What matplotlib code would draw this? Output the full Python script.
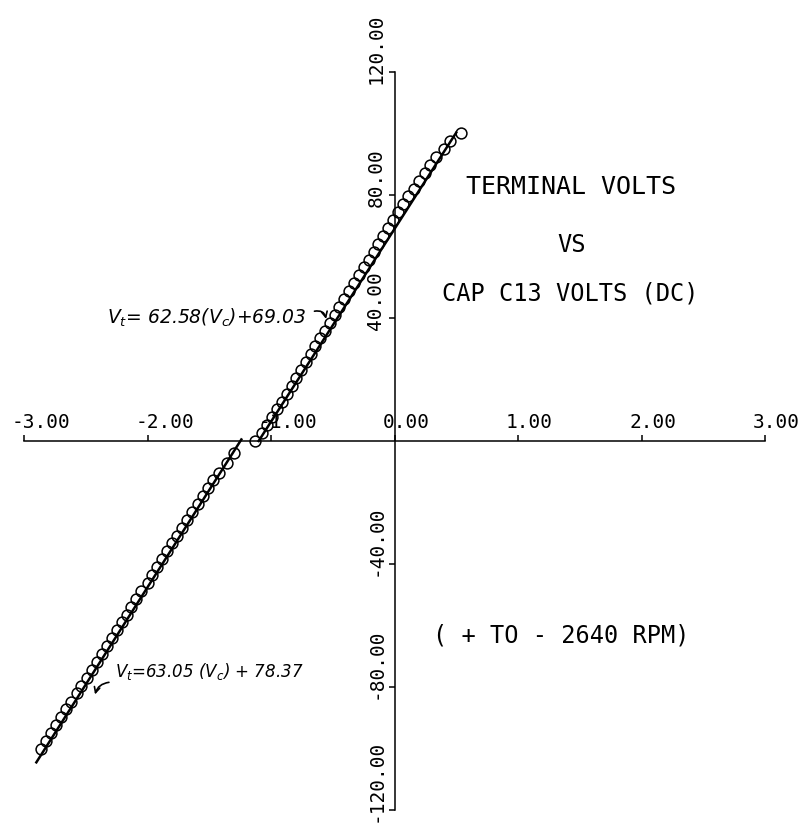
import matplotlib
matplotlib.use("Agg")
import matplotlib.pyplot as plt

vc_low = [-2.86, -2.82, -2.78, -2.74, -2.70, -2.66, -2.62, -2.57, -2.54, -2.49,
          -2.45, -2.41, -2.37, -2.33, -2.29, -2.25, -2.21, -2.17, -2.13, -2.09,
          -2.05, -2.00, -1.96, -1.92, -1.88, -1.84, -1.80, -1.76, -1.72, -1.68,
          -1.64, -1.59, -1.55, -1.51, -1.47, -1.42, -1.36, -1.30]
vt_low = [-100.2, -97.6, -95.1, -92.4, -89.9, -87.3, -84.8, -82.1, -79.6, -77.0,
          -74.4, -71.9, -69.3, -66.8, -64.1, -61.6, -59.0, -56.5, -53.9, -51.3,
          -48.7, -46.2, -43.6, -41.0, -38.5, -35.9, -33.3, -30.8, -28.2, -25.6,
          -23.1, -20.5, -17.9, -15.4, -12.8, -10.3, -7.2, -3.8]
vc_up = [-1.13, -1.07, -1.03, -0.99, -0.95, -0.91, -0.87, -0.83, -0.80, -0.76,
         -0.72, -0.68, -0.64, -0.60, -0.56, -0.52, -0.48, -0.45, -0.41, -0.37,
         -0.33, -0.29, -0.25, -0.21, -0.17, -0.13, -0.09, -0.05, -0.01, 0.03,
         0.07, 0.11, 0.16, 0.20, 0.25, 0.29, 0.34, 0.40, 0.45, 0.54]
vt_up = [0.0, 2.6, 5.1, 7.7, 10.3, 12.8, 15.4, 18.0, 20.5, 23.1,
         25.7, 28.2, 30.8, 33.4, 35.9, 38.5, 41.1, 43.6, 46.2, 48.8,
         51.3, 53.9, 56.5, 59.0, 61.6, 64.2, 66.7, 69.3, 71.9, 74.4,
         77.0, 79.6, 82.1, 84.7, 87.3, 89.8, 92.4, 95.0, 97.5, 100.3]

# fitted lines (end points)
fit_up_x = [-1.10, 0.50]
fit_up_y = [0.0, 100.3]
fit_low_x = [-2.90, -1.24]
fit_low_y = [-104.5, 0.5]

xticks = [-3, -2, -1, 0, 1, 2, 3]
yticks = [-120, -80, -40, 40, 80, 120]

plot_font = "DejaVu Sans Mono"

fig = plt.figure(figsize=(8.07, 8.24), dpi=100)
ax = fig.add_axes([24 / 807, 1 - 810 / 824, 741 / 807, 738 / 824])
ax.set_xlim(-3, 3)
ax.set_ylim(-120, 120)

ax.spines["left"].set_position(("data", 0))
ax.spines["bottom"].set_position(("data", 0))
ax.spines["top"].set_visible(False)
ax.spines["right"].set_visible(False)
for s in ("left", "bottom"):
    ax.spines[s].set_linewidth(1.1)

ax.set_xticks(xticks)
ax.set_yticks(yticks)
ax.tick_params(axis="x", direction="in", length=4, width=1.1, labelbottom=False)
ax.tick_params(axis="y", direction="out", length=4, width=1.1, labelleft=False)

# tick labels, plotter style (offset from the tick)
for t in xticks:
    ax.annotate("%.2f" % t, xy=(t, 0), xytext=(-12, 9), textcoords="offset pixels",
                ha="left", va="bottom", fontsize=14, family=plot_font)
for t in yticks:
    ax.annotate("%.2f" % t, xy=(0, t), xytext=(-9, -12), textcoords="offset pixels",
                ha="right", va="bottom", rotation=90, fontsize=14, family=plot_font)

# data
ax.plot(vc_low, vt_low, "o", ms=7.8, mfc="none", mec="black", mew=1.1, clip_on=False)
ax.plot(vc_up, vt_up, "o", ms=7.8, mfc="none", mec="black", mew=1.1, clip_on=False)
ax.plot(fit_low_x, fit_low_y, color="black", lw=1.8)
ax.plot(fit_up_x, fit_up_y, color="black", lw=1.8)

# titles
ax.text(1.43, 82.5, "TERMINAL VOLTS", ha="center", va="center", fontsize=18, family=plot_font)
ax.text(1.43, 63.7, "VS", ha="center", va="center", fontsize=17, family=plot_font)
ax.text(1.42, 48.1, "CAP C13 VOLTS (DC)", ha="center", va="center", fontsize=17, family=plot_font)
ax.text(1.35, -63.4, "( + TO - 2640 RPM)", ha="center", va="center", fontsize=17, family=plot_font)

# handwritten fit equations
ax.text(-2.33, 40.0, r"$V_t$= 62.58($V_c$)+69.03", ha="left", va="center",
        fontsize=13.5, style="italic")
ax.annotate("", xy=(-0.55, 38.8), xytext=(-0.67, 42.0),
            arrowprops=dict(arrowstyle="->", color="black", lw=1.2,
                            connectionstyle="arc3,rad=-0.6"))
ax.text(-2.26, -75.0, r"$V_t$=63.05 ($V_c$) + 78.37", ha="left", va="center",
        fontsize=12, style="italic")
ax.annotate("", xy=(-2.43, -83.3), xytext=(-2.29, -78.4),
            arrowprops=dict(arrowstyle="->", color="black", lw=1.2,
                            connectionstyle="arc3,rad=0.4"))

plt.savefig("out.png", dpi=100)
